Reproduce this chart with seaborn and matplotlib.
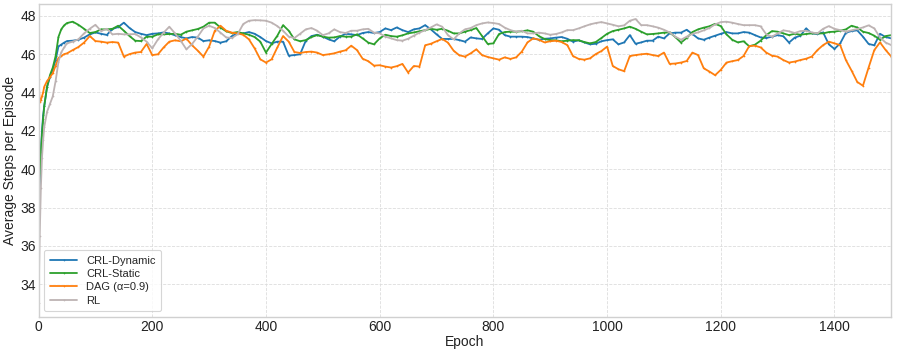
import numpy as np
import pandas as pd
import matplotlib
matplotlib.use("Agg")
import matplotlib.pyplot as plt
import seaborn as sns

epochs = [0, 2, 4, 6, 8, 10, 15, 20, 25, 30, 35, 40, 45] + list(range(50, 1501, 10))

crl_dynamic = [37.5, 39.0, 41.0, 42.0, 42.8, 43.3, 44.3, 44.8, 45.2, 45.7, 46.4, 46.5, 46.6,
    46.68, 46.70, 46.75, 46.86, 47.03, 47.13, 47.06, 47.00, 47.31, 47.41,
    47.64, 47.36, 47.15, 47.06, 46.99, 47.06, 47.08, 47.13, 47.08, 46.98,
    46.89, 46.82, 46.89, 46.86, 46.68, 46.72, 46.68, 46.60, 46.67, 46.94,
    47.08, 47.08, 47.15, 47.06, 46.89, 46.68, 46.56, 46.65, 46.65, 45.92,
    45.95, 45.99, 46.70, 46.94, 47.01, 46.91, 46.77, 46.67, 46.91, 47.06,
    47.03, 46.99, 47.10, 47.15, 47.10, 47.15, 47.34, 47.25, 47.39, 47.25,
    47.15, 47.29, 47.34, 47.51, 47.29, 47.03, 46.79, 46.79, 46.79, 46.73,
    46.65, 46.87, 46.82, 46.79, 47.08, 47.34, 47.27, 46.99, 46.91, 46.91,
    46.91, 46.89, 46.82, 46.75, 46.80, 46.82, 46.86, 46.89, 46.80, 46.65,
    46.72, 46.61, 46.51, 46.54, 46.67, 46.73, 46.77, 46.51, 46.61, 46.99,
    46.54, 46.61, 46.70, 46.70, 46.91, 46.82, 47.08, 47.12, 47.12, 47.27,
    47.05, 46.82, 46.75, 46.86, 46.96, 47.06, 47.15, 47.08, 47.08, 47.15,
    47.12, 46.99, 46.87, 46.84, 46.91, 46.99, 46.93, 46.60, 46.86, 46.96,
    47.34, 47.08, 47.05, 47.13, 46.51, 46.27, 46.56, 47.12, 47.20, 47.24,
    46.91, 46.53, 46.46, 47.06, 46.89, 46.82]

crl_static = [38.5, 39.8, 40.9, 41.8, 42.6, 43.3, 44.3, 44.9, 45.3, 45.9, 46.9, 47.3, 47.5,
    47.62, 47.69, 47.53, 47.32, 47.10, 47.15, 47.29, 47.29, 47.32, 47.48,
    47.22, 46.94, 46.70, 46.68, 46.91, 46.91, 47.03, 47.03, 47.05, 47.06,
    47.01, 47.17, 47.24, 47.31, 47.43, 47.64, 47.64, 47.38, 47.19, 47.10,
    47.15, 47.08, 47.01, 46.89, 46.65, 46.08, 46.53, 46.96, 47.51, 47.22,
    46.77, 46.67, 46.73, 46.89, 46.99, 46.91, 46.86, 46.87, 46.94, 46.91,
    46.91, 47.03, 46.82, 46.60, 46.51, 46.82, 47.01, 46.94, 46.91, 46.98,
    47.08, 47.13, 47.19, 47.25, 47.32, 47.27, 47.32, 47.22, 47.08, 47.08,
    47.17, 47.25, 47.36, 46.94, 46.53, 46.56, 47.05, 47.15, 47.17, 47.17,
    47.19, 47.24, 47.17, 46.94, 46.79, 46.73, 46.72, 46.67, 46.70, 46.73,
    46.72, 46.63, 46.56, 46.63, 46.84, 47.06, 47.20, 47.27, 47.34, 47.43,
    47.32, 47.17, 47.03, 47.05, 47.08, 47.12, 47.13, 46.89, 46.60, 46.84,
    47.15, 47.29, 47.38, 47.45, 47.58, 47.46, 47.03, 46.75, 46.61, 46.67,
    46.41, 46.49, 46.70, 46.99, 47.20, 47.17, 47.08, 46.99, 47.06, 47.01,
    47.05, 47.08, 47.08, 47.08, 47.15, 47.17, 47.22, 47.29, 47.48, 47.39,
    47.17, 47.10, 46.96, 46.75, 46.94, 46.99]

dag = [44.7, 43.5, 43.6, 43.8, 44.0, 44.3, 44.6, 44.8, 45.0, 45.4, 45.8, 45.9, 46.0,
    46.04, 46.21, 46.37, 46.60, 46.94, 46.68, 46.65, 46.60, 46.63, 46.60,
    45.87, 46.00, 46.08, 46.11, 46.53, 45.95, 45.99, 46.35, 46.65, 46.72,
    46.67, 46.81, 46.46, 46.18, 45.87, 46.39, 47.22, 47.48, 47.22, 47.12,
    47.08, 47.01, 46.77, 46.30, 45.73, 45.56, 45.73, 46.35, 46.94, 46.65,
    46.11, 46.06, 46.11, 46.13, 46.08, 45.95, 45.99, 46.04, 46.13, 46.20,
    46.44, 46.21, 45.76, 45.63, 45.40, 45.42, 45.35, 45.30, 45.37, 45.49,
    45.04, 45.38, 45.35, 46.46, 46.54, 46.67, 46.79, 46.60, 46.18, 45.94,
    45.87, 46.04, 46.25, 45.95, 45.85, 45.78, 45.71, 45.83, 45.75, 45.83,
    46.13, 46.61, 46.82, 46.75, 46.61, 46.67, 46.70, 46.63, 46.47, 45.90,
    45.75, 45.71, 45.78, 46.00, 46.16, 46.39, 45.38, 45.21, 45.11, 45.90,
    45.95, 45.99, 46.02, 45.95, 45.90, 46.08, 45.49, 45.51, 45.56, 45.64,
    46.08, 45.95, 45.26, 45.09, 44.90, 45.18, 45.56, 45.63, 45.69, 45.90,
    46.42, 46.44, 46.35, 46.08, 45.92, 45.87, 45.69, 45.56, 45.61, 45.69,
    45.76, 45.87, 46.21, 46.47, 46.65, 46.56, 46.47, 45.69, 45.14, 44.55,
    44.35, 45.30, 46.21, 46.61, 46.21, 45.87]

rl = [33.0, 36.5, 39.0, 40.6, 41.5, 42.2, 43.0, 43.4, 43.8, 44.6, 45.6, 46.1, 46.35,
    46.56, 46.65, 46.77, 47.08, 47.32, 47.53, 47.20, 47.32, 47.03, 47.06,
    47.03, 47.03, 47.05, 46.87, 46.65, 46.30, 46.77, 47.12, 47.43, 47.08,
    46.70, 46.25, 46.53, 46.91, 47.34, 47.48, 47.36, 47.12, 46.87, 46.84,
    47.03, 47.57, 47.74, 47.77, 47.76, 47.74, 47.64, 47.46, 47.22, 46.91,
    46.84, 47.06, 47.29, 47.36, 47.22, 46.99, 47.08, 47.29, 47.15, 47.10,
    47.22, 47.22, 47.29, 47.32, 47.12, 47.08, 46.91, 46.82, 46.73, 46.70,
    46.80, 46.96, 47.12, 47.25, 47.39, 47.55, 47.43, 46.99, 46.77, 47.08,
    47.29, 47.36, 47.51, 47.60, 47.65, 47.62, 47.57, 47.38, 47.25, 47.17,
    47.22, 47.08, 47.08, 47.12, 47.08, 47.01, 47.05, 47.13, 47.25, 47.25,
    47.34, 47.45, 47.55, 47.62, 47.67, 47.60, 47.53, 47.45, 47.50, 47.74,
    47.83, 47.51, 47.51, 47.45, 47.38, 47.27, 47.13, 46.91, 46.75, 46.91,
    47.06, 47.13, 47.24, 47.36, 47.55, 47.67, 47.69, 47.64, 47.57, 47.51,
    47.51, 47.51, 47.45, 47.03, 46.91, 47.08, 47.24, 47.19, 47.10, 47.20,
    47.22, 47.13, 47.08, 47.32, 47.46, 47.32, 47.25, 47.17, 47.24, 47.31,
    47.39, 47.50, 47.34, 46.87, 46.60, 46.47]

labels = ["CRL-Dynamic", "CRL-Static", "DAG (\u03b1=0.9)", "RL"]
colors = ["#1f77b4", "#2ca02c", "#ff7f0e", "#bdb3b3"]
series = [crl_dynamic, crl_static, dag, rl]

sns.set_theme(style="whitegrid")
plt.rcParams["font.family"] = ["Liberation Sans", "DejaVu Sans"]

fig, ax = plt.subplots(figsize=(8.97, 3.54), dpi=100)
for lab, col, vals in zip(labels, colors, series):
    df = pd.DataFrame({"Epoch": epochs, "val": vals})
    sns.lineplot(data=df, x="Epoch", y="val", ax=ax, label=lab, color=col,
                 linewidth=1.3, marker=".", markersize=2.5, markeredgewidth=0)

ax.set_xlim(0, 1500)
ax.set_ylim(32.3, 48.6)
ax.set_yticks([34, 36, 38, 40, 42, 44, 46, 48])
ax.set_xticks([0, 200, 400, 600, 800, 1000, 1200, 1400])
ax.set_xlabel("Epoch", fontsize=10, labelpad=1, color="#222222")
ax.set_ylabel("Average Steps per Episode", fontsize=10, labelpad=2, color="#222222")
ax.tick_params(axis="both", labelsize=10, pad=2, length=0, labelcolor="#222222")
ax.grid(True, linestyle="--", linewidth=0.6, color="#dddddd")
for s in ax.spines.values():
    s.set_color("#d0d0d0")
    s.set_linewidth(1.0)
leg = ax.legend(loc="lower left", fontsize=8, frameon=True, borderpad=0.5,
                handlelength=2.5, labelspacing=0.3)
leg.get_frame().set_edgecolor("#cccccc")
leg.get_frame().set_linewidth(0.8)

fig.subplots_adjust(left=0.043, right=0.9937, bottom=0.105, top=0.988)
fig.savefig("out.png", dpi=100)
